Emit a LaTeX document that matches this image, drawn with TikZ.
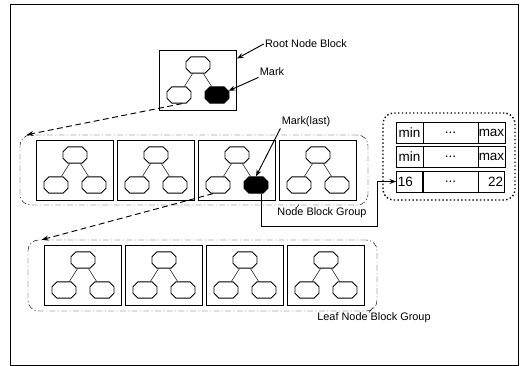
\documentclass[tikz,border=0pt]{standalone}
\usepackage{fontspec}
\setmainfont{Liberation Sans}
\usetikzlibrary{arrows.meta,calc,shapes.misc}
\tikzset{
  blockbox/.style={draw, thick, minimum width=2.31cm, minimum height=1.8cm},
  octnode/.style={
    chamfered rectangle, draw, thick,
    chamfered rectangle xsep=0.075cm, chamfered rectangle ysep=0.075cm,
    inner xsep=0.285cm, inner ysep=0.17cm
  },
  markfill/.style={fill=black},
  blockgroup/.style={draw, rounded corners=9pt, dash pattern=on 5pt off 2pt on 1pt off 2pt},
  tablegroup/.style={draw, very thick, dotted, rounded corners=9pt},
  cell/.style={draw, thick, minimum height=0.63cm, inner sep=1pt, font=\fontsize{11.5}{12}\selectfont},
  callout/.style={font=\fontsize{9.3}{11}\selectfont, inner sep=1pt},
  pointer/.style={-{Stealth[length=2mm]}, thick},
  linkflow/.style={-{Stealth[length=2mm]}, thick, dash pattern=on 5pt off 3pt},
  pics/treeblock/.style={code={
    \node[blockbox] (-box) at (0,0) {};
    \node[octnode] (-top) at (0,-15) {};
    \node[octnode] (-left) at (-19,15) {};
    \node[octnode,#1] (-right) at (19,15) {};
    \draw (-top) -- (-left) (-top) -- (-right);
  }},
  pics/treeblock/.default=
}
\begin{document}
\begin{tikzpicture}[x=0.03cm,y=-0.03cm]
    \useasboundingbox (0,0) rectangle (521,366);
    \draw[thick] (10,4) rectangle (518,365);
    % root block
    \pic (root) at (198,80) {treeblock=markfill};
    % node block group
    \node[blockgroup, minimum width=10.44cm, minimum height=2.1cm] (nbg) at (194,170) {};
    \pic (nb1) at (75,170) {treeblock};
    \pic (nb2) at (156,170) {treeblock};
    \pic (nb3) at (237,170) {treeblock=markfill};
    \pic (nb4) at (318,170) {treeblock};
    % leaf node block group
    \node[blockgroup, minimum width=10.47cm, minimum height=2.13cm] (lbg) at (202.5,275.5) {};
    \foreach \i/\x in {1/83,2/164,3/245,4/326}
      \pic (lb\i) at (\x,275) {treeblock};
    % range table
    \node[tablegroup, minimum width=3.96cm, minimum height=2.61cm] (tbl) at (449,156.5) {};
    \node[cell, minimum width=0.81cm] (t1a) at (409.5,132.5) {min};
    \node[cell, minimum width=1.65cm] (t1b) at (450.5,132.5) {...};
    \node[cell, minimum width=0.81cm, inner xsep=0pt] (t1c) at (491.5,132.5) {max};
    \node[cell, minimum width=0.81cm] (t2a) at (409.5,157) {min};
    \node[cell, minimum width=1.65cm] (t2b) at (450.5,157) {...};
    \node[cell, minimum width=0.81cm, inner xsep=0pt] (t2c) at (491.5,157) {max};
    \node[cell, text width=0.7cm, align=left] (t3a) at (409.5,181.5) {16};
    \node[cell, minimum width=1.65cm] (t3b) at (450.5,181.5) {...};
    \node[cell, text width=0.7cm, align=right] (t3c) at (491.5,181.5) {22};
    % labels
    \node[callout] (rootlbl) at (306,44) {Root Node Block};
    \node[callout] (marklbl) at (272,72) {Mark};
    \node[callout] (lastlbl) at (306,122) {Mark(last)};
    \node[callout] (nbglbl) at (322,213) {Node Block Group};
    \node[callout] (lbglbl) at (374,318) {Leaf Node Block Group};
    % connectors
    \draw[pointer] (rootlbl.west) -- ($(root-box.north east)+(0,9)$);
    \draw[pointer] (marklbl.south west) -- (root-right.20);
    \draw[pointer] (lastlbl.south west) -- (nb3-right.north);
    \draw[linkflow] (root-left.-70) -- ($(nbg.north west)+(7,0)$);
    \draw[linkflow] (nb3-left.-120) -- ($(lbg.north west)+(14,0)$);
    \coordinate (turn) at (377,226);
    \draw[pointer] (nb3-right.-60) |- (turn) |- (t3a.west);
    \draw ($(nbglbl.north)+(-26,2)$) -- ($(nbglbl.north)+(-23,-2)$);
    \draw ($(lbglbl.north)+(-5,1)$) -- ($(lbglbl.north)+(-1,-4)$);
\end{tikzpicture}
\end{document}
